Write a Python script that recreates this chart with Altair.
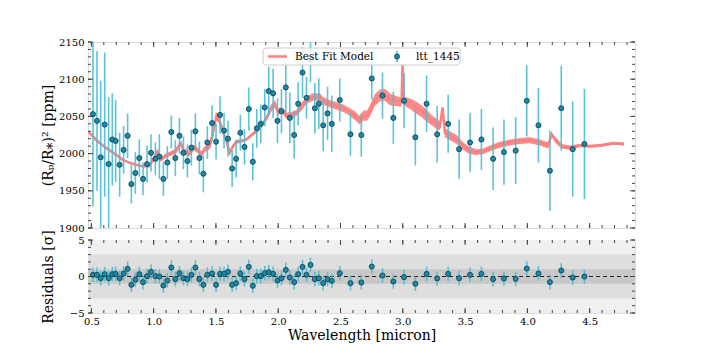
import altair as alt
import pandas as pd

# ---------------- data ----------------
wavelength = [0.513, 0.545, 0.575, 0.607, 0.639, 0.668, 0.695, 0.727, 0.759, 0.791,
              0.821, 0.853, 0.885, 0.915, 0.947, 0.979, 1.014, 1.046, 1.078, 1.110,
              1.142, 1.174, 1.207, 1.239, 1.271, 1.303, 1.335, 1.367, 1.399, 1.431,
              1.469, 1.501, 1.533, 1.565, 1.597, 1.630, 1.662, 1.696, 1.729, 1.764,
              1.796, 1.828, 1.860, 1.892, 1.924, 1.959, 1.994, 2.026, 2.061, 2.093,
              2.128, 2.160, 2.195, 2.227, 2.259, 2.294, 2.326, 2.361, 2.396, 2.430,
              2.494, 2.580, 2.667, 2.751, 2.837, 2.924, 3.010, 3.101, 3.191, 3.276,
              3.364, 3.452, 3.540, 3.631, 3.725, 3.812, 3.906, 3.995, 4.089, 4.181,
              4.272, 4.364, 4.458]
depth = [2053, 2044, 1995, 2039, 1986, 2019, 2017, 1985, 2005, 2024,
         1959, 1974, 1994, 1966, 1986, 2001, 1993, 1996, 1966, 1988,
         2029, 1994, 2024, 2001, 1990, 2008, 2030, 1994, 1973, 2015,
         2041, 2016, 2052, 2031, 2020, 1980, 1993, 2028, 2009, 2060,
         1989, 2034, 2040, 2062, 2084, 2081, 2044, 2057, 2089, 2048,
         2025, 2067, 2109, 2075, 2126, 2061, 2067, 2038, 2054, 2040,
         2072, 2026, 2025, 2101, 2078, 2048, 2071, 2022, 2067, 2026,
         2040, 2006, 2015, 2019, 1993, 2002, 2004, 2071, 2038, 1977,
         2061, 2006, 2013]
depth_err = [124, 94, 103, 97, 90, 62, 55, 43, 32, 30,
             26, 28, 25, 22, 25, 25, 22, 30, 23, 22,
             22, 24, 24, 22, 22, 24, 24, 22, 25, 22,
             24, 24, 25, 24, 24, 25, 25, 24, 24, 29,
             25, 26, 26, 25, 33, 33, 30, 30, 34, 34,
             32, 29, 34, 28, 30, 34, 34, 35, 36, 38,
             29, 29, 29, 28, 31, 35, 37, 38, 38, 38,
             39, 40, 40, 41, 42, 44, 45, 48, 50, 54,
             57, 64, 74]
residual = [0.23, 0.23, -0.23, 0.32, -0.23, 0.32, 0.36, -0.23, 0.41, 1.05,
            -1.14, -0.45, 0.32, -0.77, 0.05, 0.64, 0.05, 0.0, -1.23, -0.55,
            1.23, -0.36, 0.45, -0.23, -0.36, 0.23, 1.23, -0.36, -1.14, 0.23,
            0.41, -1.14, 0.36, 0.36, 0.64, -1.14, -0.91, 0.41, -0.36, 1.32,
            -1.27, 0.05, 0.05, 0.45, 0.59, 0.36, -0.55, -0.23, 0.91, -0.14,
            -0.77, 0.32, 1.32, 0.23, 1.59, -0.36, -0.23, -0.91, -0.36, -0.59,
            0.45, -0.91, -0.82, 1.36, 0.14, -0.68, -0.09, -1.0, 0.36, -0.27,
            0.36, -0.23, 0.23, 0.36, -0.36, -0.27, -0.32, 1.09, 0.41, -0.77,
            0.82, -0.14, 0.0]

model_wl = [0.473, 0.535, 0.615, 0.695, 0.749, 0.802, 0.856, 0.910, 0.963, 0.990,
            1.030, 1.057, 1.097, 1.137, 1.177, 1.217, 1.244, 1.284, 1.324, 1.343,
            1.384, 1.410, 1.450, 1.477, 1.504, 1.531, 1.557, 1.584, 1.611, 1.637,
            1.665, 1.705, 1.745, 1.785, 1.825, 1.865, 1.906, 1.946, 1.972, 1.999,
            2.026, 2.066, 2.106, 2.147, 2.187, 2.227, 2.280, 2.334, 2.360, 2.414,
            2.468, 2.521, 2.575, 2.615, 2.655, 2.682, 2.714, 2.749, 2.776, 2.816,
            2.856, 2.896, 2.936, 2.990, 2.998, 3.008, 3.057, 3.097, 3.151, 3.191,
            3.231, 3.271, 3.298, 3.319, 3.338, 3.378, 3.432, 3.485, 3.539, 3.592,
            3.645, 3.699, 3.779, 3.860, 3.940, 4.020, 4.100, 4.167, 4.195, 4.221,
            4.275, 4.342, 4.422, 4.502, 4.582, 4.690, 4.776]
model_depth = [2030, 2019, 2008, 1999, 1992, 1988, 1985, 1983, 1983, 1990,
               2003, 1992, 1997, 2000, 2003, 2014, 2003, 2000, 2008, 2006,
               1999, 2006, 2010, 2028, 2051, 2043, 2030, 2017, 2001, 2010,
               2016, 2017, 2019, 2025, 2030, 2037, 2048, 2062, 2067, 2056,
               2059, 2051, 2052, 2055, 2063, 2072, 2076, 2076, 2071, 2067,
               2064, 2061, 2056, 2051, 2045, 2051, 2051, 2062, 2072, 2078,
               2079, 2073, 2071, 2069, 2120, 2071, 2067, 2063, 2057, 2051,
               2045, 2040, 2037, 2062, 2028, 2024, 2019, 2010, 2004, 2002,
               2003, 2007, 2012, 2015, 2017, 2018, 2015, 2011, 2026, 2019,
               2010, 2008, 2011, 2010, 2011, 2014, 2013]
model_spread = [0, 0, 0, 0, 0, 0, 0, 0, 0, 1,
                3, 3, 3, 3, 4, 4, 4, 4, 4, 4,
                4, 4, 4, 5, 5, 4, 4, 3, 3, 3,
                3, 2, 2, 2, 3, 3, 4, 5, 5, 5,
                4, 4, 4, 4, 5, 5, 5, 5, 5, 5,
                5, 5, 5, 6, 6, 7, 7, 8, 8, 8,
                8, 8, 7, 6, 1, 6, 7, 8, 8, 8,
                7, 7, 6, 1, 6, 6, 6, 5, 5, 4,
                4, 4, 4, 4, 4, 4, 4, 4, 2, 4,
                3, 3, 2, 2, 2, 2, 2]

x_major = [0.5, 1.0, 1.5, 2.0, 2.5, 3.0, 3.5, 4.0, 4.5]
x_minor = [0.5, 0.6, 0.7, 0.8, 0.9, 1.0, 1.1, 1.2, 1.3, 1.4, 1.5, 1.6, 1.7, 1.8, 1.9,
           2.0, 2.1, 2.2, 2.3, 2.4, 2.5, 2.6, 2.7, 2.8, 2.9, 3.0, 3.1, 3.2, 3.3, 3.4,
           3.5, 3.6, 3.7, 3.8, 3.9, 4.0, 4.1, 4.2, 4.3, 4.4, 4.5, 4.6, 4.7, 4.8]
y_top_major = [1900, 1950, 2000, 2050, 2100, 2150]
y_top_minor = [1900, 1910, 1920, 1930, 1940, 1950, 1960, 1970, 1980, 1990, 2000,
               2010, 2020, 2030, 2040, 2050, 2060, 2070, 2080, 2090, 2100,
               2110, 2120, 2130, 2140, 2150]
y_res_major = [-5, 0, 5]
y_res_minor = [-5, -4, -3, -2, -1, 0, 1, 2, 3, 4, 5]
band_lo = [-5, -3, -1]
band_hi = [5, 3, 1]
band_color = ["#f0f0f0", "#dedede", "#c8c8c8"]
zero_line = [0]

# ---------------- style ----------------
W, H1, H2 = 547, 186, 73
XDOM = [0.473, 4.864]
FONT = "DejaVu Serif"
MODEL_C = "#ff8080"
ERR_C = "#4dbcd4"
PT_C = "#1a8aa6"
PT_EDGE = "#0e3b4a"
FRAME = "#444444"

pts = pd.DataFrame({"wl": wavelength, "d": depth,
                    "lo": [a - b for a, b in zip(depth, depth_err)],
                    "hi": [a + b for a, b in zip(depth, depth_err)],
                    "r": residual,
                    "rlo": [a - 1 for a in residual],
                    "rhi": [a + 1 for a in residual]})
model = pd.DataFrame({"wl": model_wl, "d": model_depth,
                      "lo": [a - b for a, b in zip(model_depth, model_spread)],
                      "hi": [a + b for a, b in zip(model_depth, model_spread)]})
one = pd.DataFrame({"k": [0]})

xs = alt.Scale(domain=XDOM, nice=False, zero=False)
ys_top = alt.Scale(domain=[1900, 2150], nice=False, zero=False)
ys_res = alt.Scale(domain=[-5, 5], nice=False, zero=False)

AX_T = alt.Axis(labels=False, ticks=False, domain=False, grid=False, title=None)
AY_T = alt.Axis(values=y_top_major, format="d", labelOverlap=False, labelFlush=False,
                ticks=False, domain=False, grid=False,
                labelFont=FONT, labelFontSize=10, labelColor="#000", labelPadding=4,
                title="(Rₚ/R⁎)² [ppm]", titleFont=FONT, titleFontSize=14,
                titleFontWeight="normal", titleColor="#000",
                titleX=-40, titleY=H1 / 2, titleAngle=270, titleBaseline="middle",
                titleAlign="center")
AX_B = alt.Axis(values=x_major, format=".1f", labelOverlap=False, labelFlush=False,
                ticks=False, domain=False, grid=False,
                labelFont=FONT, labelFontSize=10, labelColor="#000", labelPadding=3,
                title="Wavelength [micron]", titleFont=FONT, titleFontSize=14,
                titleFontWeight="normal", titleColor="#000", titlePadding=2)
AY_B = alt.Axis(values=y_res_major, format="d", labelOverlap=False, labelFlush=False,
                ticks=False, domain=False, grid=False,
                labelFont=FONT, labelFontSize=10, labelColor="#000", labelPadding=4,
                title="Residuals [σ]", titleFont=FONT, titleFontSize=14,
                titleFontWeight="normal", titleColor="#000",
                titleX=-40, titleY=H2 / 2, titleAngle=270, titleBaseline="middle",
                titleAlign="center")


def tick_layers(height, yvals_major, yvals_minor, ax, ay, ysc):
    xmaj = pd.DataFrame({"t": x_major})
    xmin = pd.DataFrame({"t": x_minor})
    ymaj = pd.DataFrame({"t": yvals_major})
    ymin = pd.DataFrame({"t": yvals_minor})
    out = []
    for df, ln in ((xmaj, 5), (xmin, 3)):
        out.append(alt.Chart(df).mark_rule(color=FRAME, strokeWidth=1).encode(
            x=alt.X("t:Q", scale=xs, axis=ax), y=alt.value(height), y2=alt.value(height - ln)))
        out.append(alt.Chart(df).mark_rule(color=FRAME, strokeWidth=1).encode(
            x=alt.X("t:Q", scale=xs, axis=ax), y=alt.value(0), y2=alt.value(ln)))
    for df, ln in ((ymaj, 5), (ymin, 3)):
        out.append(alt.Chart(df).mark_rule(color=FRAME, strokeWidth=1).encode(
            y=alt.Y("t:Q", scale=ysc, axis=ay), x=alt.value(0), x2=alt.value(ln)))
        out.append(alt.Chart(df).mark_rule(color=FRAME, strokeWidth=1).encode(
            y=alt.Y("t:Q", scale=ysc, axis=ay), x=alt.value(W), x2=alt.value(W - ln)))
    return out


# ---------------- top panel ----------------
m_area = alt.Chart(model).mark_area(color=MODEL_C, opacity=0.9, clip=True).encode(
    x=alt.X("wl:Q", scale=xs, axis=AX_T),
    y=alt.Y("lo:Q", scale=ys_top, axis=AY_T),
    y2="hi:Q")
m_line = alt.Chart(model).mark_line(color=MODEL_C, strokeWidth=2.5, clip=True).encode(
    x=alt.X("wl:Q", scale=xs, axis=AX_T), y=alt.Y("d:Q", scale=ys_top, axis=AY_T))
e_bar = alt.Chart(pts).mark_rule(color=ERR_C, strokeWidth=1.6, opacity=0.9, clip=True).encode(
    x=alt.X("wl:Q", scale=xs, axis=AX_T), y=alt.Y("lo:Q", scale=ys_top, axis=AY_T), y2="hi:Q")
p_top = alt.Chart(pts).mark_circle(size=26, color=PT_C, opacity=1, stroke=PT_EDGE,
                                   strokeWidth=0.8, clip=True).encode(
    x=alt.X("wl:Q", scale=xs, axis=AX_T), y=alt.Y("d:Q", scale=ys_top, axis=AY_T))

# legend drawn inside the plot
leg_box = alt.Chart(one).mark_rect(fill="white", fillOpacity=0.85, stroke="#cccccc",
                                   strokeWidth=1, cornerRadius=3).encode(
    x=alt.value(175), x2=alt.value(372), y=alt.value(6), y2=alt.value(23))
leg_line = alt.Chart(one).mark_rule(color=MODEL_C, strokeWidth=2.5).encode(
    x=alt.value(180), x2=alt.value(199), y=alt.value(14.5))
leg_t1 = alt.Chart(one).mark_text(align="left", baseline="middle", font=FONT, fontSize=10.5,
                                  color="#000").encode(
    x=alt.value(207), y=alt.value(14.5), text=alt.value("Best Fit Model"))
leg_err = alt.Chart(one).mark_rule(color=ERR_C, strokeWidth=1.6).encode(
    x=alt.value(309), y=alt.value(9), y2=alt.value(20))
leg_pt = alt.Chart(one).mark_circle(size=26, color=PT_C, opacity=1, stroke=PT_EDGE,
                                    strokeWidth=0.8).encode(x=alt.value(309), y=alt.value(14.5))
leg_t2 = alt.Chart(one).mark_text(align="left", baseline="middle", font=FONT, fontSize=10.5,
                                  color="#000").encode(
    x=alt.value(328), y=alt.value(14.5), text=alt.value("ltt_1445"))

top = alt.layer(m_area, m_line, e_bar, p_top,
                *tick_layers(H1, y_top_major, y_top_minor, AX_T, AY_T, ys_top),
                leg_box, leg_line, leg_t1, leg_err, leg_pt, leg_t2
                ).properties(width=W, height=H1)

# ---------------- residual panel ----------------
bands = pd.DataFrame({"lo": band_lo, "hi": band_hi, "c": band_color})
zdf = pd.DataFrame({"z": zero_line})
r_band = alt.Chart(bands).mark_rect(opacity=1).encode(
    x=alt.value(0), x2=alt.value(W),
    y=alt.Y("lo:Q", scale=ys_res, axis=AY_B), y2="hi:Q",
    color=alt.Color("c:N", scale=None, legend=None))
r_zero = alt.Chart(zdf).mark_rule(color="#222222", strokeWidth=1.1,
                                  strokeDash=[4, 3]).encode(
    y=alt.Y("z:Q", scale=ys_res, axis=AY_B))
r_err = alt.Chart(pts).mark_rule(color=ERR_C, strokeWidth=1.6, opacity=0.9).encode(
    x=alt.X("wl:Q", scale=xs, axis=AX_B), y=alt.Y("rlo:Q", scale=ys_res, axis=AY_B), y2="rhi:Q")
r_pt = alt.Chart(pts).mark_circle(size=26, color=PT_C, opacity=1, stroke=PT_EDGE,
                                  strokeWidth=0.8).encode(
    x=alt.X("wl:Q", scale=xs, axis=AX_B), y=alt.Y("r:Q", scale=ys_res, axis=AY_B))

bottom = alt.layer(r_band, r_zero, r_err, r_pt,
                   *tick_layers(H2, y_res_major, y_res_minor, AX_B, AY_B, ys_res)
                   ).properties(width=W, height=H2)

chart = alt.vconcat(top, bottom, spacing=12, bounds="flush").properties(
    padding={"left": 32, "top": 28, "right": 10, "bottom": 4}
).configure_view(stroke=FRAME, strokeWidth=1).configure(background="white")

chart.save("out.html", embed_options={"renderer": "svg", "actions": False})
